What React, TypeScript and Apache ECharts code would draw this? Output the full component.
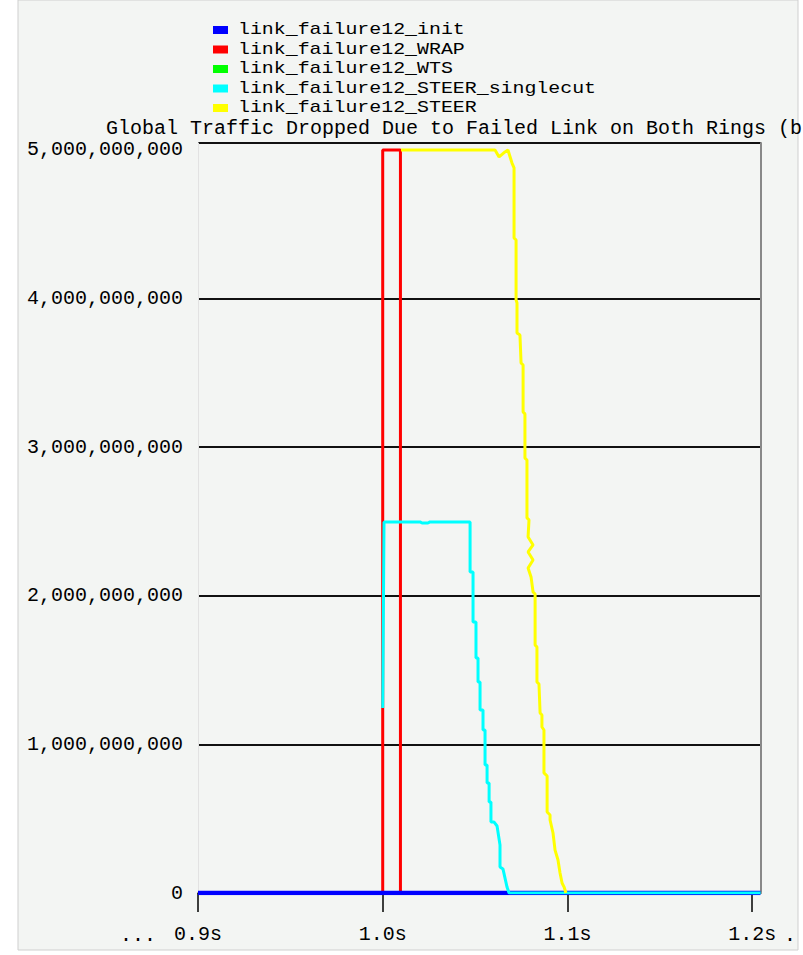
import React, { useEffect, useRef } from "react";
import * as echarts from "echarts";

const SERIES_NAMES = [
  "link_failure12_init",
  "link_failure12_WRAP",
  "link_failure12_WTS",
  "link_failure12_STEER_singlecut",
  "link_failure12_STEER",
];
const SERIES_COLORS = ["#0000ff", "#ff0000", "#00ff00", "#00ffff", "#ffff00"];

const TITLE = "Global Traffic Dropped Due to Failed Link on Both Rings (b";

const initTimes = [0.9, 1.2045];
const initValues = [0, 0];

const wrapTimes = [1.0, 1.0, 1.0096, 1.0096];
const wrapValues = [0, 5e9, 5e9, 0];

const wtsTimes = [0.9, 1.2045];
const wtsValues = [0, 0];

const singlecutTimes = [
  1.0, 1.0007, 1.0202, 1.0213, 1.0245, 1.0256, 1.0473, 1.0473, 1.0489, 1.0489,
  1.0505, 1.0505, 1.0516, 1.0516, 1.0527, 1.0527, 1.0543, 1.0543, 1.0554, 1.0554,
  1.0565, 1.0565, 1.0576, 1.0576, 1.0586, 1.0586, 1.0603, 1.0619, 1.0635, 1.0635,
  1.0651, 1.0673, 1.0684, 1.2045,
];
const singlecutValues = [
  1.245e9, 2.497e9, 2.497e9, 2.49e9, 2.49e9, 2.497e9, 2.497e9, 2.16e9, 2.16e9, 1.823e9,
  1.823e9, 1.581e9, 1.581e9, 1.42e9, 1.42e9, 1.231e9, 1.231e9, 1.097e9, 1.097e9, 0.861e9,
  0.861e9, 0.74e9, 0.74e9, 0.612e9, 0.612e9, 0.477e9, 0.477e9, 0.451e9, 0.323e9, 0.175e9,
  0.162e9, 0.04e9, 0, 0,
];

const steerTimes = [
  1.0099, 1.0608, 1.063, 1.0662, 1.0678, 1.07, 1.0711, 1.0711, 1.0722, 1.0722,
  1.0727, 1.0727, 1.0743, 1.0749, 1.076, 1.076, 1.077, 1.077, 1.0781, 1.0781,
  1.0792, 1.0787, 1.0814, 1.0787, 1.0814, 1.0787, 1.0803, 1.0814, 1.0825, 1.0825,
  1.0835, 1.0835, 1.0846, 1.0852, 1.0862, 1.0862, 1.0873, 1.0873, 1.089, 1.089,
  1.0906, 1.0906, 1.0922, 1.0933, 1.0949, 1.096, 1.0971, 1.0982, 1.0992,
];
const steerValues = [
  5.0e9, 5.0e9, 4.953e9, 4.987e9, 5.0e9, 4.912e9, 4.88e9, 4.408e9, 4.394e9, 3.991e9,
  3.97e9, 3.768e9, 3.755e9, 3.567e9, 3.553e9, 3.237e9, 3.224e9, 2.927e9, 2.914e9, 2.524e9,
  2.511e9, 2.396e9, 2.342e9, 2.295e9, 2.241e9, 2.187e9, 2.127e9, 2.026e9, 2.012e9, 1.669e9,
  1.655e9, 1.42e9, 1.406e9, 1.211e9, 1.198e9, 1.117e9, 1.097e9, 0.808e9, 0.787e9, 0.545e9,
  0.525e9, 0.491e9, 0.404e9, 0.289e9, 0.222e9, 0.135e9, 0.067e9, 0.04e9, 0,
];

const zip = (t: number[], v: number[]) => t.map((x, i) => [x, v[i]]);

const MONO = "'Liberation Mono', 'DejaVu Sans Mono', monospace";

export default function App() {
  const ref = useRef<HTMLDivElement>(null);
  useEffect(() => {
    if (!ref.current) return;
    const chart = echarts.init(ref.current, null, { renderer: "svg" });
    const seriesData = [
      zip(initTimes, initValues),
      zip(wrapTimes, wrapValues),
      zip(wtsTimes, wtsValues),
      zip(singlecutTimes, singlecutValues),
      zip(steerTimes, steerValues),
    ];
    const widths = [4.5, 3, 3, 3, 3];
    const zs = [3, 2, 1, 4, 4];

    const legendGraphics: any[] = [];
    SERIES_NAMES.forEach((name, i) => {
      const cy = 30 + 19.5 * i;
      legendGraphics.push({
        type: "rect",
        silent: true,
        shape: { x: 213, y: cy - 4, width: 15, height: 8 },
        style: { fill: SERIES_COLORS[i] },
      });
      legendGraphics.push({
        type: "text",
        silent: true,
        x: 238,
        y: cy,
        scaleX: 1.17,
        style: {
          text: name,
          font: `17px ${MONO}`,
          fill: "#000",
          textVerticalAlign: "middle",
        },
      });
    });

    chart.setOption({
      animation: false,
      backgroundColor: "#ffffff",
      graphic: [
        {
          type: "rect",
          z: -10,
          silent: true,
          shape: { x: 18, y: 0, width: 780, height: 950 },
          style: { fill: "#f3f5f3", stroke: "#cfcfcf", lineWidth: 1 },
        },
        ...legendGraphics,
        {
          type: "text",
          silent: true,
          x: 120,
          y: 935,
          style: { text: "...", font: `20px ${MONO}`, fill: "#000", textVerticalAlign: "middle" },
        },
        {
          type: "text",
          silent: true,
          x: 784,
          y: 935,
          style: { text: ".", font: `20px ${MONO}`, fill: "#000", textVerticalAlign: "middle" },
        },
      ],
      title: {
        text: TITLE,
        left: 106,
        top: 118,
        padding: 0,
        textStyle: { fontFamily: MONO, fontSize: 20, fontWeight: "normal", color: "#000" },
      },
      grid: { left: 198, right: 42, top: 143, bottom: 62, containLabel: false },
      xAxis: {
        type: "value",
        min: 0.9,
        max: 1.2048,
        interval: 0.1,
        offset: 5,
        axisLine: { show: true, lineStyle: { color: "#999", width: 2 } },
        axisTick: {
          show: true,
          length: 19,
          lineStyle: { color: "#000", width: 1.5 },
        },
        axisLabel: {
          formatter: (v: number) => v.toFixed(1) + "s",
          fontFamily: MONO,
          fontSize: 20,
          color: "#000",
          margin: 26,
          showMaxLabel: false,
        },
        splitLine: { show: false },
      },
      yAxis: [
        {
          type: "value",
          min: 0,
          max: 5.047e9,
          interval: 1e9,
          axisLine: { show: true, lineStyle: { color: "#e2e2e2", width: 1 } },
          axisTick: { show: false },
          axisLabel: {
            fontFamily: MONO,
            fontSize: 20,
            color: "#000",
            margin: 15,
            showMaxLabel: false,
            formatter: (v: number) => Math.round(v).toLocaleString("en-US"),
          },
          splitLine: {
            show: true,
            lineStyle: {
              color: ["#111", "#111", "#111", "#111", "#111", "rgba(0,0,0,0)"],
              width: 2,
            },
          },
        },
        {
          type: "value",
          position: "right",
          min: 0,
          max: 5.047e9,
          interval: 1e9,
          axisLine: { show: true, lineStyle: { color: "#888", width: 2 } },
          axisTick: { show: false },
          axisLabel: { show: false },
          splitLine: { show: false },
        },
      ],
      series: SERIES_NAMES.map((name, i) => ({
        name,
        type: "line",
        data: seriesData[i],
        showSymbol: false,
        symbol: "none",
        z: zs[i],
        color: SERIES_COLORS[i],
        lineStyle: { color: SERIES_COLORS[i], width: widths[i] },
      })),
    });
    return () => chart.dispose();
  }, []);
  return (
    <div
      ref={ref}
      style={{ position: "fixed", left: 0, top: 0, width: 803, height: 955 }}
    />
  );
}
